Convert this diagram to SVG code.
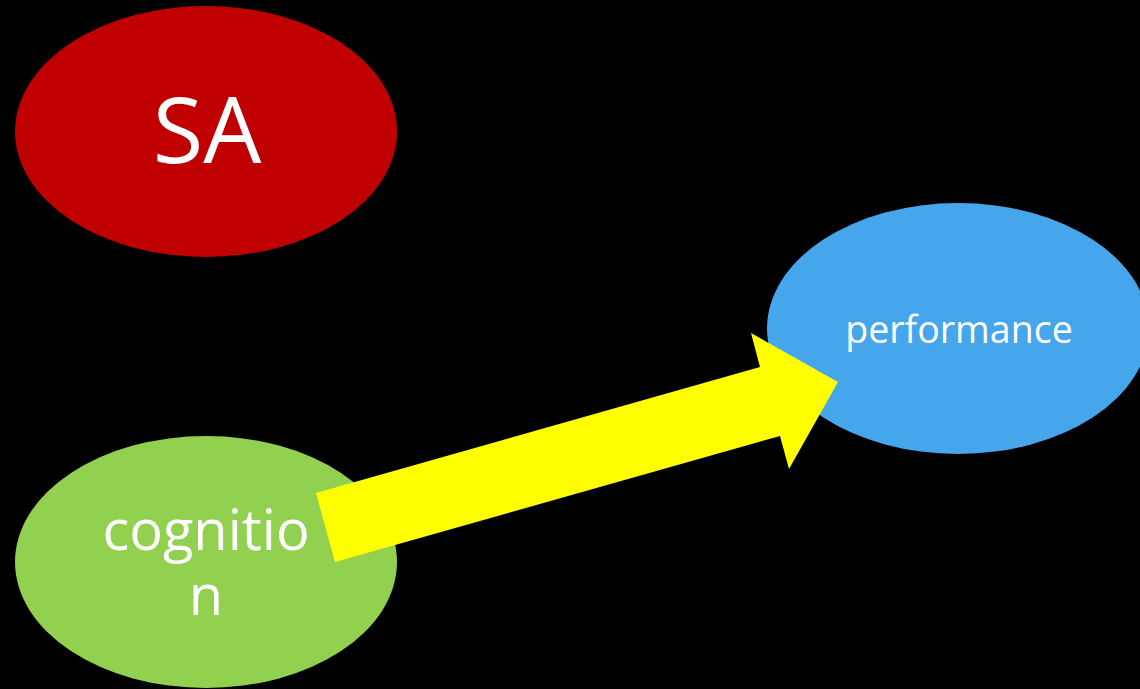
<svg xmlns="http://www.w3.org/2000/svg" width="1140" height="689" viewBox="0 0 1140 689">
  <style>
    .label { font-family: "Open Sans", "Noto Sans", "DejaVu Sans", sans-serif; fill: #ffffff; text-anchor: middle; }
  </style>
  <rect x="0" y="0" width="1140" height="689" fill="#000000"/>

  <g id="node-sa">
    <ellipse cx="206" cy="131.5" rx="191" ry="125.5" fill="#C00000"/>
    <text class="label" x="207" y="163" font-size="92">SA</text>
  </g>

  <g id="node-cognition">
    <ellipse cx="206" cy="562" rx="191" ry="126" fill="#92D050"/>
    <text class="label" x="206" y="550" font-size="56">cognitio</text>
    <text class="label" x="206" y="615" font-size="56">n</text>
  </g>

  <g id="node-performance">
    <ellipse cx="958" cy="328.5" rx="191" ry="125.5" fill="#46A6EC"/>
    <text class="label" x="959" y="343" font-size="37.5">performance</text>
  </g>

  <g id="connectors">
    <polygon points="316,493 760,367 751,333 838,382 789,469 780,436 335,562" fill="#FFFF00"/>
  </g>
</svg>
